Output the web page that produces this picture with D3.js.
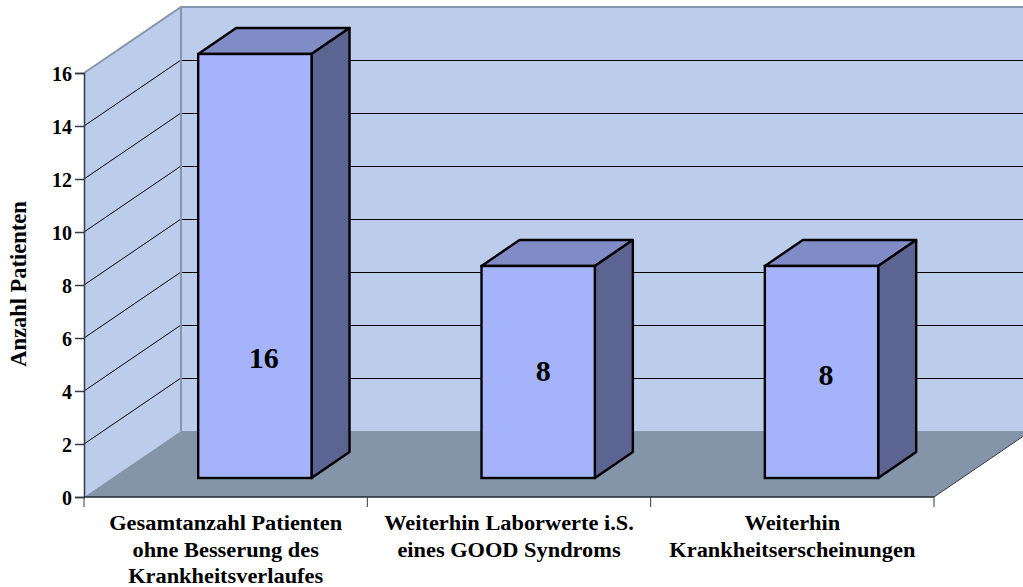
<!DOCTYPE html>
<html>
<head>
  <meta charset="utf-8">
  <script src="https://d3js.org/d3.v7.min.js"></script>
</head>
<style>
html, body { margin: 0; padding: 0; background: #fff; overflow: hidden; }
text { font-family: "Liberation Serif", serif; font-weight: bold; fill: #000; }
</style>
<body>
<script>
    var categories = [
      ["Gesamtanzahl Patienten", "ohne Besserung des", "Krankheitsverlaufes"],
      ["Weiterhin Laborwerte i.S.", "eines GOOD Syndroms"],
      ["Weiterhin", "Krankheitserscheinungen"]
    ];
    var values = [16, 8, 8];
    var yTicks = [0, 2, 4, 6, 8, 10, 12, 14, 16];
    var yTitle = "Anzahl Patienten";

    var width = 1023, height = 587;
    var x0 = 84, x1 = 934, y0 = 497, y1 = 73;
    var wallDx = 97, wallDy = -66; // how far the back wall sits behind the front edge
    var barDx = 38, barDy = -26;   // depth of a bar
    var barFront = 19;             // bars stand this far above the front edge

    var svg = d3.select("body").append("svg")
      .attr("width", width)
      .attr("height", height)
      .style("display", "block");

    var y = d3.scaleLinear().domain([0, 16]).range([y0, y1]);
    var x = d3.scaleBand().domain(d3.range(values.length)).range([x0, x1]);

    function pts(a) { return a.map(function(p) { return p.join(","); }).join(" "); }

    // walls and floor
    svg.append("polygon")
      .attr("points", pts([[x0 + wallDx, y(16) + wallDy], [x1 + wallDx, y(16) + wallDy], [x1 + wallDx, y0 + wallDy], [x0 + wallDx, y0 + wallDy]]))
      .attr("fill", "#bbcdea");
    svg.append("polygon")
      .attr("points", pts([[x0, y(16)], [x0 + wallDx, y(16) + wallDy], [x0 + wallDx, y0 + wallDy], [x0, y0]]))
      .attr("fill", "#bbcdea");
    svg.append("polygon")
      .attr("points", pts([[x0, y0], [x0 + wallDx, y0 + wallDy], [x1 + wallDx, y0 + wallDy], [x1, y0]]))
      .attr("fill", "#8494a9");

    // gridlines on both walls
    var grid = yTicks.filter(function(d) { return d > 0 && d < 16; });
    svg.selectAll(".grid-side").data(grid).enter().append("line")
      .attr("x1", x0).attr("y1", function(d) { return y(d); })
      .attr("x2", x0 + wallDx).attr("y2", function(d) { return y(d) + wallDy; })
      .attr("stroke", "#000").attr("stroke-width", 1);
    svg.selectAll(".grid-back").data(grid).enter().append("line")
      .attr("x1", x0 + wallDx).attr("y1", function(d) { return y(d) + wallDy + 0.5; })
      .attr("x2", x1 + wallDx).attr("y2", function(d) { return y(d) + wallDy + 0.5; })
      .attr("stroke", "#000").attr("stroke-width", 1);

    // wall outline
    svg.append("polyline")
      .attr("points", pts([[x0, y(16)], [x0 + wallDx, y(16) + wallDy], [x1 + wallDx, y(16) + wallDy]]))
      .attr("fill", "none").attr("stroke", "#8595ab").attr("stroke-width", 2);
    svg.append("line")
      .attr("x1", x0 + wallDx).attr("y1", y(16) + wallDy)
      .attr("x2", x0 + wallDx).attr("y2", y0 + wallDy)
      .attr("stroke", "#8595ab").attr("stroke-width", 2);
    svg.append("line")
      .attr("x1", x1).attr("y1", y0)
      .attr("x2", x1 + wallDx).attr("y2", y0 + wallDy)
      .attr("stroke", "#333a45").attr("stroke-width", 1);

    // bars
    var barW = x.bandwidth() * 0.4;
    var bar = svg.selectAll(".bar").data(values).enter().append("g").attr("class", "bar");
    function bx(i) { return x(i) + x.bandwidth() * 0.403; }
    function by(d) { return y(d) - barFront; }
    var botY = y(0) - barFront;

    bar.append("polygon") // top
      .attr("points", function(d, i) {
        return pts([[bx(i), by(d)], [bx(i) + barDx, by(d) + barDy], [bx(i) + barW + barDx, by(d) + barDy], [bx(i) + barW, by(d)]]);
      })
      .attr("fill", "#808cc6").attr("stroke", "#000").attr("stroke-width", 2.4).attr("stroke-linejoin", "round");
    bar.append("polygon") // side
      .attr("points", function(d, i) {
        return pts([[bx(i) + barW, by(d)], [bx(i) + barW + barDx, by(d) + barDy], [bx(i) + barW + barDx, botY + barDy], [bx(i) + barW, botY]]);
      })
      .attr("fill", "#5c6492").attr("stroke", "#000").attr("stroke-width", 2.4).attr("stroke-linejoin", "round");
    bar.append("rect") // front
      .attr("x", function(d, i) { return bx(i); })
      .attr("y", function(d) { return by(d); })
      .attr("width", barW)
      .attr("height", function(d) { return botY - by(d); })
      .attr("fill", "#a5b4fa").attr("stroke", "#000").attr("stroke-width", 2.4);

    // value labels sit slightly differently in each bar
    var labelDx = [9, 5, 4.5], labelDy = [-129, -116, -112];
    bar.append("text")
      .attr("x", function(d, i) { return bx(i) + barW / 2 + labelDx[i]; })
      .attr("y", function(d, i) { return y0 + labelDy[i]; })
      .attr("text-anchor", "middle")
      .attr("font-size", 30)
      .text(function(d) { return d; });

    // axes
    var yAxis = d3.axisLeft(y).tickValues(yTicks).tickSize(9).tickPadding(3);
    var yg = svg.append("g").attr("transform", "translate(" + x0 + ",0)").call(yAxis);
    yg.select(".domain").attr("stroke", "#333a45").attr("stroke-width", 1.5);
    yg.selectAll(".tick line").attr("stroke", "#333a45").attr("stroke-width", 1.5);
    yg.selectAll(".tick text").attr("font-size", 20).attr("font-family", null).attr("dy", "0.36em");

    var xg = svg.append("g").attr("transform", "translate(0," + y0 + ")");
    xg.append("line").attr("x1", x0).attr("x2", x1).attr("stroke", "#222831").attr("stroke-width", 1.5);
    xg.selectAll(".xtick").data(d3.range(values.length + 1)).enter().append("line")
      .attr("x1", function(i) { return x0 + i * x.step(); })
      .attr("x2", function(i) { return x0 + i * x.step(); })
      .attr("y1", 0).attr("y2", 10)
      .attr("stroke", "#333a45").attr("stroke-width", 1);

    // the labels in the picture are a little wider than the font, so stretch them
    var catLabel = svg.selectAll(".cat").data(categories).enter().append("text")
      .attr("text-anchor", "middle")
      .attr("font-size", 21)
      .attr("transform", function(d, i) {
        return "translate(" + (x(i) + x.bandwidth() / 2) + ",0) scale(1.065,1)";
      });
    catLabel.selectAll("tspan").data(function(d) { return d; }).enter().append("tspan")
      .attr("x", 0)
      .attr("y", function(d, j) { return 530.5 + j * 26.2; })
      .text(function(d) { return d; });

    svg.append("text")
      .attr("transform", "translate(26,284) rotate(-90)")
      .attr("text-anchor", "middle")
      .attr("font-size", 22.5)
      .text(yTitle);
</script>
</body>
</html>
